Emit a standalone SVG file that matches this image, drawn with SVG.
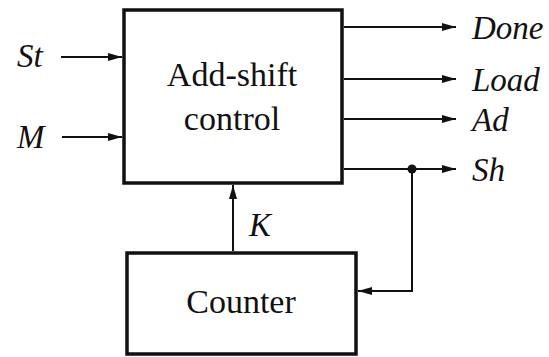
<svg xmlns="http://www.w3.org/2000/svg" width="549" height="357" viewBox="0 0 549 357">
<style>
.box{fill:none;stroke:#111;stroke-width:3.5}
.w{fill:none;stroke:#111;stroke-width:2}
.t{font-family:'Liberation Serif',serif;font-size:34px;fill:#111}
.i{font-family:'Liberation Serif',serif;font-size:33px;font-style:italic;fill:#111}
</style>
<defs>
<marker id="ah" viewBox="0 0 14 8" refX="14" refY="4" markerWidth="14" markerHeight="8" markerUnits="userSpaceOnUse" orient="auto">
<path d="M0,0 L14,4 L0,8 Z" fill="#111"/>
</marker>
</defs>
<g id="control">
<rect class="box" x="124" y="10" width="218" height="173"/>
<text class="t" x="232" y="86" text-anchor="middle">Add-shift</text>
<text class="t" x="232" y="130" text-anchor="middle">control</text>
</g>
<g id="counter">
<rect class="box" x="127" y="253" width="229" height="101"/>
<text class="t" x="241" y="313" text-anchor="middle">Counter</text>
</g>
<g id="labels">
<text class="i" x="17" y="67">St</text>
<text class="i" x="17" y="148">M</text>
<text class="i" x="472" y="39">Done</text>
<text class="i" x="472" y="91">Load</text>
<text class="i" x="472" y="131">Ad</text>
<text class="i" x="472" y="181">Sh</text>
<text class="i" x="249" y="236">K</text>
</g>
<g id="connectors">
<line class="w" x1="61" y1="57" x2="122" y2="57" marker-end="url(#ah)"/>
<line class="w" x1="62" y1="137" x2="122" y2="137" marker-end="url(#ah)"/>
<line class="w" x1="344" y1="27" x2="456" y2="27" marker-end="url(#ah)"/>
<line class="w" x1="344" y1="79" x2="456" y2="79" marker-end="url(#ah)"/>
<line class="w" x1="344" y1="119" x2="456" y2="119" marker-end="url(#ah)"/>
<line class="w" x1="344" y1="169" x2="456" y2="169" marker-end="url(#ah)"/>
<circle cx="412" cy="169" r="4.5" fill="#111"/>
<polyline class="w" points="412,169 412,291 358,291" marker-end="url(#ah)"/>
<line class="w" x1="233" y1="251" x2="233" y2="185" marker-end="url(#ah)"/>
</g>
</svg>
